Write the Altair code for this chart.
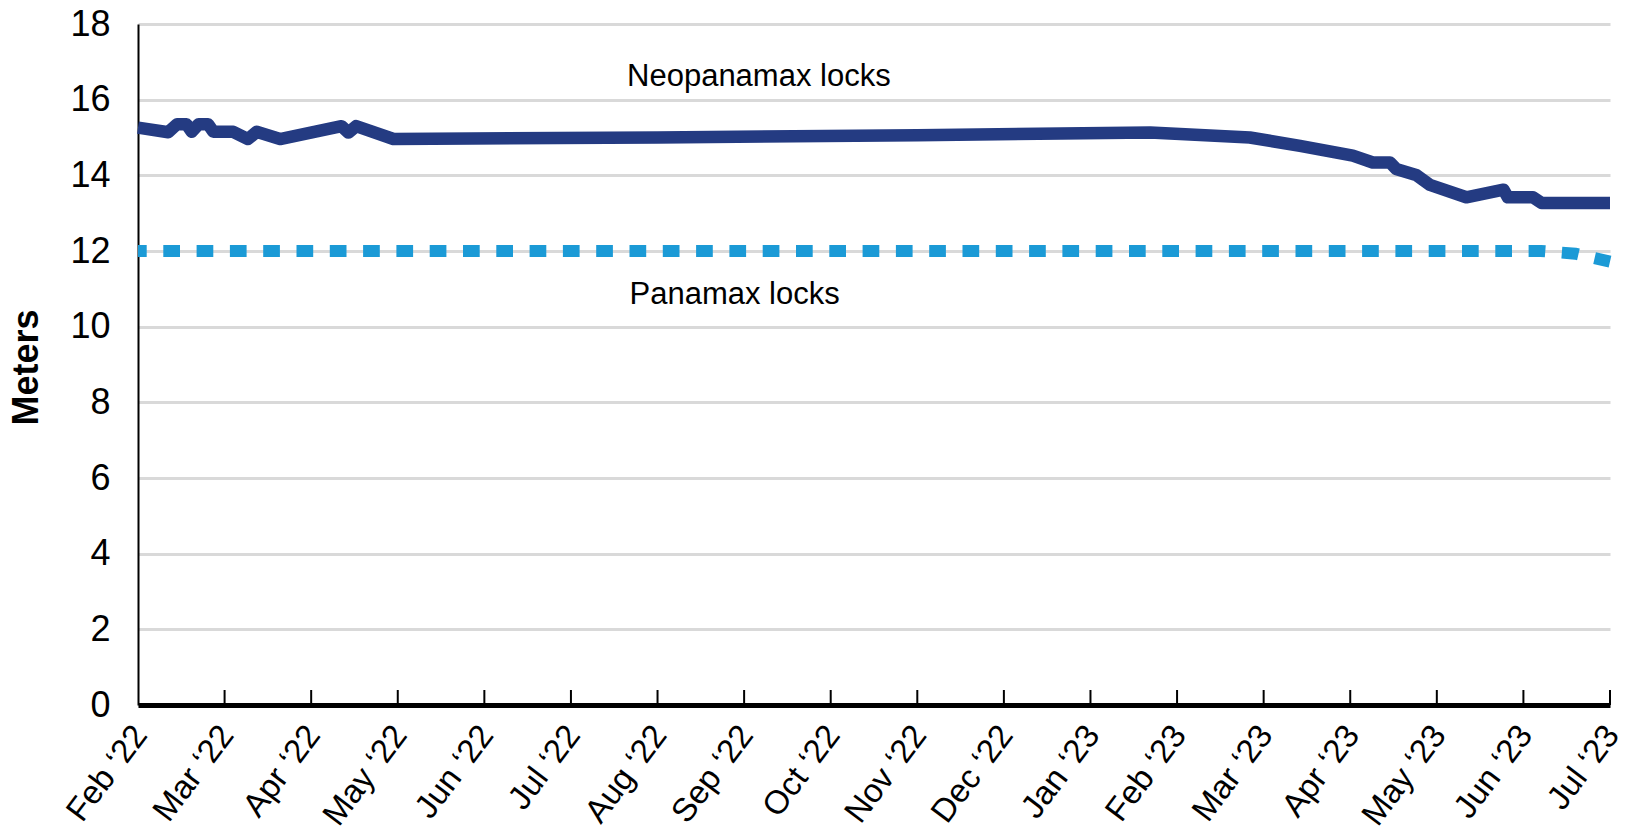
import altair as alt
import pandas as pd

# ---- data ----
month_labels = ["Feb ‘22", "Mar ‘22", "Apr ‘22", "May ‘22", "Jun ‘22", "Jul ‘22",
                "Aug ‘22", "Sep ‘22", "Oct ‘22", "Nov ‘22", "Dec ‘22", "Jan ‘23",
                "Feb ‘23", "Mar ‘23", "Apr ‘23", "May ‘23", "Jun ‘23", "Jul ‘23"]

# x position in months since Feb '22 (fractional), y in meters
neo_month = [0, 0.35, 0.45, 0.56, 0.62, 0.70, 0.81, 0.87, 1.10, 1.27, 1.37, 1.64,
             2.35, 2.43, 2.52, 2.95, 6.0, 9.0, 11.69, 12.84, 13.42, 14.03, 14.26,
             14.46, 14.53, 14.76, 14.92, 15.34, 15.77, 15.82, 16.11, 16.21, 17]
neo_depth = [15.26, 15.14, 15.35, 15.35, 15.15, 15.35, 15.35, 15.15, 15.15, 14.96,
             15.15, 14.96, 15.30, 15.13, 15.30, 14.96, 15.00, 15.06, 15.13, 15.00,
             14.78, 14.52, 14.34, 14.34, 14.17, 14.01, 13.75, 13.42, 13.62, 13.42,
             13.42, 13.27, 13.27]

pan_month = [0, 16.2, 16.6, 17]
pan_depth = [12.0, 12.0, 11.93, 11.72]

annot_text = ["Neopanamax locks", "Panamax locks"]
annot_month = [7.17, 6.89]
annot_depth = [16.36, 10.61]

y_ticks = [0, 2, 4, 6, 8, 10, 12, 14, 16, 18]

# ---- tables ----
neo_df = pd.DataFrame({"month": neo_month, "depth": neo_depth})
pan_df = pd.DataFrame({"month": pan_month, "depth": pan_depth})
ann_df = pd.DataFrame({"month": annot_month, "depth": annot_depth, "label": annot_text})
tick_df = pd.DataFrame({"month": list(range(1, len(month_labels)))})

W, H = 1472, 681
FONT = "Liberation Sans, Arial, sans-serif"

label_js = "[" + ",".join("'" + m + "'" for m in month_labels) + "][datum.value]"

x_scale = alt.Scale(domain=[0, len(month_labels) - 1], nice=False, zero=False)
y_scale = alt.Scale(domain=[0, 18], nice=False)

x_axis = alt.Axis(
    values=list(range(len(month_labels))), labelExpr=label_js, title=None,
    grid=False, ticks=False, tickSize=0, domainColor="black", domainWidth=5,
    labelAngle=-53, labelAlign="right", labelBaseline="middle", labelPadding=24,
    labelOffset=2, labelFontSize=33, labelFont=FONT, labelColor="black",
    labelOverlap=False, labelBound=False, labelFlush=False,
)
y_axis = alt.Axis(
    values=y_ticks, title="Meters", titleFont=FONT, titleFontSize=36,
    titleFontWeight="bold", titleColor="black", titleAngle=-90,
    titleAlign="center", titleBaseline="middle", titleX=-112, titleY=343,
    grid=True, gridColor="#D9D9D9", gridWidth=3, ticks=False, tickSize=0,
    domainColor="black", domainWidth=2, labelPadding=28, labelFontSize=36,
    labelFont=FONT, labelColor="black",
)

X = alt.X("month:Q", scale=x_scale, axis=x_axis)
Y = alt.Y("depth:Q", scale=y_scale, axis=y_axis)

neo = alt.Chart(neo_df).mark_line(
    color="#243B82", strokeWidth=12.5, strokeJoin="round", strokeCap="butt"
).encode(x=X, y=Y)

pan = alt.Chart(pan_df).mark_line(
    color="#1B9AD6", strokeWidth=12, strokeDash=[16.7, 16.6], strokeDashOffset=8,
    strokeCap="butt", strokeJoin="miter"
).encode(x=X, y=Y)

ticks = alt.Chart(tick_df).mark_rule(color="black", strokeWidth=2).encode(
    x=X,
    y=alt.value(H),
    y2=alt.value(H - 15),
)

ann = alt.Chart(ann_df).mark_text(
    font=FONT, fontSize=31, color="black", align="center", baseline="alphabetic"
).encode(x=X, y=Y, text="label:N")

chart = alt.layer(neo, pan, ticks, ann).properties(
    width=W, height=H,
    autosize=alt.AutoSizeParams(type="none"),
    padding={"left": 130, "top": 16, "right": 12, "bottom": 130},
    background="white",
).configure_view(stroke=None)

chart.save("out.html", embed_options={"renderer": "svg", "actions": False})
